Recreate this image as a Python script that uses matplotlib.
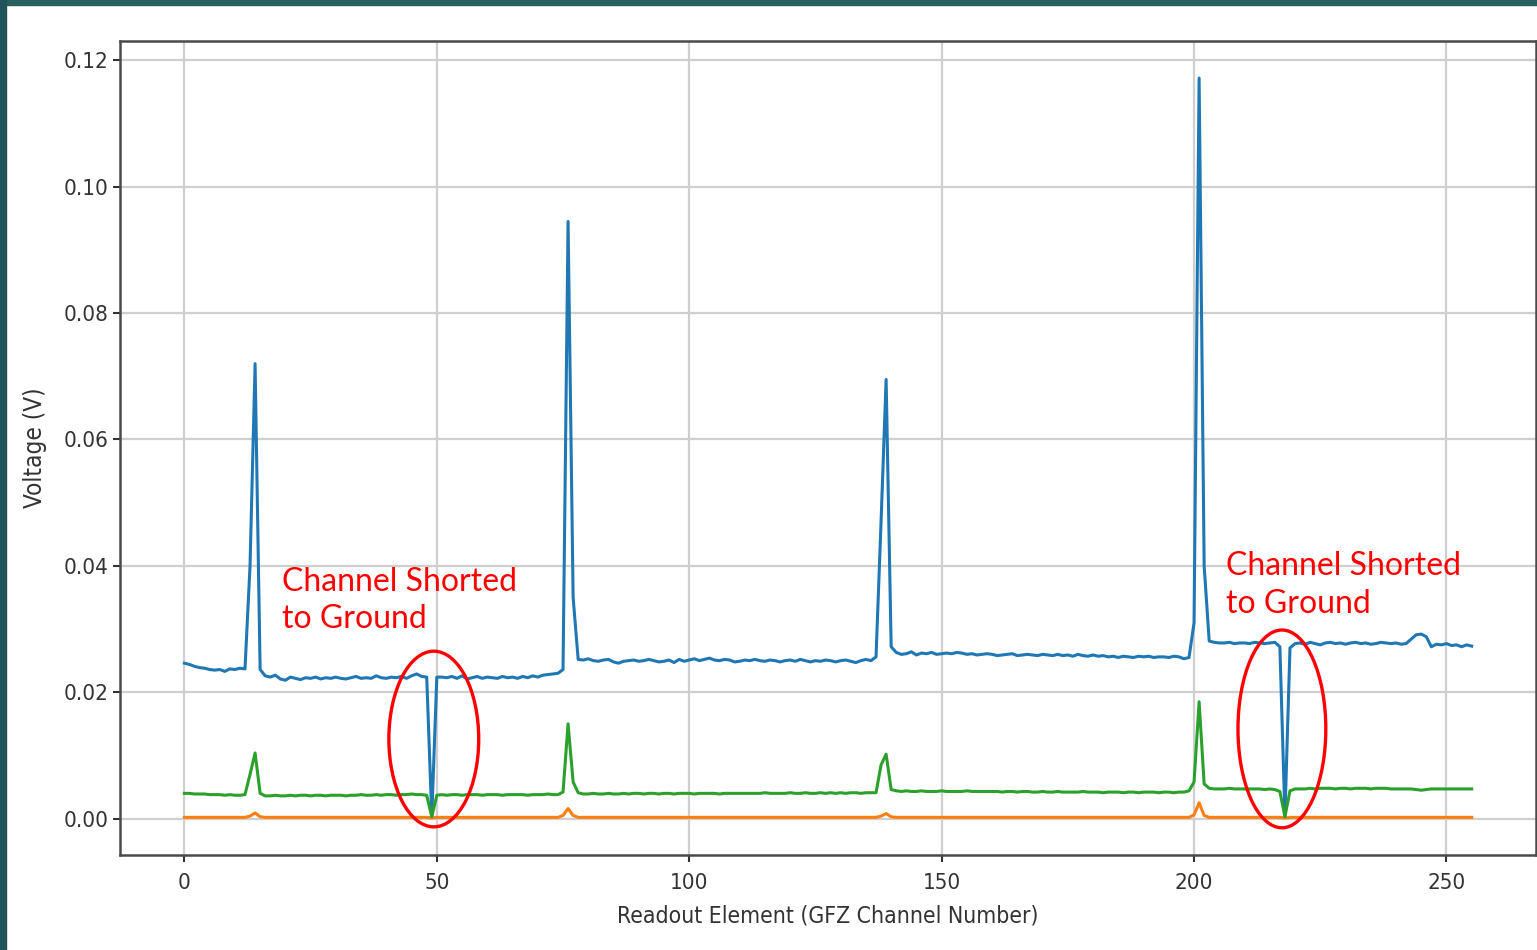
import matplotlib
matplotlib.use("Agg")
import matplotlib.pyplot as plt
from matplotlib.patches import Ellipse, Rectangle
import numpy as np

# readout elements 0..255
channels = list(range(256))

# blue trace (V), 16 values per row
blue_v = [
    0.0246, 0.0244, 0.0241, 0.0239, 0.0238, 0.0236, 0.0235, 0.0236, 0.0233, 0.0237, 0.0236, 0.0238, 0.0237, 0.0400, 0.0720, 0.0236,
    0.0226, 0.0224, 0.0227, 0.0221, 0.0219, 0.0224, 0.0222, 0.0220, 0.0223, 0.0222, 0.0224, 0.0221, 0.0223, 0.0222, 0.0224, 0.0222,
    0.0221, 0.0223, 0.0225, 0.0222, 0.0223, 0.0222, 0.0226, 0.0223, 0.0222, 0.0224, 0.0223, 0.0225, 0.0222, 0.0226, 0.0229, 0.0225,
    0.0224, 0.0003, 0.0224, 0.0224, 0.0223, 0.0225, 0.0222, 0.0226, 0.0221, 0.0223, 0.0225, 0.0222, 0.0224, 0.0223, 0.0222, 0.0225,
    0.0223, 0.0224, 0.0222, 0.0225, 0.0223, 0.0226, 0.0224, 0.0227, 0.0228, 0.0229, 0.0230, 0.0236, 0.0945, 0.0350, 0.0252, 0.0251,
    0.0253, 0.0250, 0.0249, 0.0251, 0.0252, 0.0248, 0.0246, 0.0249, 0.0250, 0.0251, 0.0249, 0.0250, 0.0252, 0.0250, 0.0248, 0.0249,
    0.0251, 0.0247, 0.0252, 0.0249, 0.0251, 0.0253, 0.0250, 0.0252, 0.0254, 0.0251, 0.0250, 0.0252, 0.0251, 0.0248, 0.0249, 0.0251,
    0.0250, 0.0252, 0.0250, 0.0249, 0.0251, 0.0250, 0.0248, 0.0250, 0.0251, 0.0249, 0.0252, 0.0250, 0.0248, 0.0250, 0.0249, 0.0251,
    0.0250, 0.0248, 0.0250, 0.0251, 0.0249, 0.0247, 0.0250, 0.0252, 0.0250, 0.0256, 0.0470, 0.0695, 0.0272, 0.0263, 0.0260, 0.0261,
    0.0264, 0.0259, 0.0262, 0.0261, 0.0263, 0.0260, 0.0261, 0.0262, 0.0261, 0.0263, 0.0262, 0.0260, 0.0261, 0.0259, 0.0260, 0.0261,
    0.0260, 0.0258, 0.0259, 0.0260, 0.0261, 0.0258, 0.0259, 0.0260, 0.0259, 0.0258, 0.0260, 0.0259, 0.0258, 0.0260, 0.0258, 0.0259,
    0.0257, 0.0260, 0.0258, 0.0257, 0.0259, 0.0257, 0.0258, 0.0256, 0.0257, 0.0255, 0.0257, 0.0256, 0.0255, 0.0257, 0.0256, 0.0257,
    0.0255, 0.0256, 0.0256, 0.0255, 0.0257, 0.0256, 0.0253, 0.0255, 0.0310, 0.1172, 0.0400, 0.0281, 0.0279, 0.0278, 0.0278, 0.0279,
    0.0277, 0.0278, 0.0278, 0.0277, 0.0279, 0.0278, 0.0277, 0.0278, 0.0279, 0.0272, 0.0003, 0.0270, 0.0277, 0.0278, 0.0276, 0.0279,
    0.0277, 0.0275, 0.0278, 0.0279, 0.0277, 0.0278, 0.0276, 0.0278, 0.0279, 0.0277, 0.0278, 0.0276, 0.0277, 0.0279, 0.0278, 0.0277,
    0.0278, 0.0276, 0.0277, 0.0284, 0.0291, 0.0292, 0.0288, 0.0272, 0.0276, 0.0275, 0.0277, 0.0274, 0.0275, 0.0272, 0.0275, 0.0273,
]

# orange trace (V)
orange_v = [
    0.0002, 0.0002, 0.0002, 0.0002, 0.0002, 0.0002, 0.0002, 0.0002, 0.0002, 0.0002, 0.0002, 0.0002, 0.0002, 0.0004, 0.0009, 0.0003,
    0.0002, 0.0002, 0.0002, 0.0002, 0.0002, 0.0002, 0.0002, 0.0002, 0.0002, 0.0002, 0.0002, 0.0002, 0.0002, 0.0002, 0.0002, 0.0002,
    0.0002, 0.0002, 0.0002, 0.0002, 0.0002, 0.0002, 0.0002, 0.0002, 0.0002, 0.0002, 0.0002, 0.0002, 0.0002, 0.0002, 0.0002, 0.0002,
    0.0002, 0.0001, 0.0002, 0.0002, 0.0002, 0.0002, 0.0002, 0.0002, 0.0002, 0.0002, 0.0002, 0.0002, 0.0002, 0.0002, 0.0002, 0.0002,
    0.0002, 0.0002, 0.0002, 0.0002, 0.0002, 0.0002, 0.0002, 0.0002, 0.0002, 0.0002, 0.0002, 0.0005, 0.0016, 0.0005, 0.0002, 0.0002,
    0.0002, 0.0002, 0.0002, 0.0002, 0.0002, 0.0002, 0.0002, 0.0002, 0.0002, 0.0002, 0.0002, 0.0002, 0.0002, 0.0002, 0.0002, 0.0002,
    0.0002, 0.0002, 0.0002, 0.0002, 0.0002, 0.0002, 0.0002, 0.0002, 0.0002, 0.0002, 0.0002, 0.0002, 0.0002, 0.0002, 0.0002, 0.0002,
    0.0002, 0.0002, 0.0002, 0.0002, 0.0002, 0.0002, 0.0002, 0.0002, 0.0002, 0.0002, 0.0002, 0.0002, 0.0002, 0.0002, 0.0002, 0.0002,
    0.0002, 0.0002, 0.0002, 0.0002, 0.0002, 0.0002, 0.0002, 0.0002, 0.0002, 0.0002, 0.0004, 0.0008, 0.0003, 0.0002, 0.0002, 0.0002,
    0.0002, 0.0002, 0.0002, 0.0002, 0.0002, 0.0002, 0.0002, 0.0002, 0.0002, 0.0002, 0.0002, 0.0002, 0.0002, 0.0002, 0.0002, 0.0002,
    0.0002, 0.0002, 0.0002, 0.0002, 0.0002, 0.0002, 0.0002, 0.0002, 0.0002, 0.0002, 0.0002, 0.0002, 0.0002, 0.0002, 0.0002, 0.0002,
    0.0002, 0.0002, 0.0002, 0.0002, 0.0002, 0.0002, 0.0002, 0.0002, 0.0002, 0.0002, 0.0002, 0.0002, 0.0002, 0.0002, 0.0002, 0.0002,
    0.0002, 0.0002, 0.0002, 0.0002, 0.0002, 0.0002, 0.0002, 0.0002, 0.0006, 0.0025, 0.0005, 0.0002, 0.0002, 0.0002, 0.0002, 0.0002,
    0.0002, 0.0002, 0.0002, 0.0002, 0.0002, 0.0002, 0.0002, 0.0002, 0.0002, 0.0002, 0.0001, 0.0002, 0.0002, 0.0002, 0.0002, 0.0002,
    0.0002, 0.0002, 0.0002, 0.0002, 0.0002, 0.0002, 0.0002, 0.0002, 0.0002, 0.0002, 0.0002, 0.0002, 0.0002, 0.0002, 0.0002, 0.0002,
    0.0002, 0.0002, 0.0002, 0.0002, 0.0002, 0.0002, 0.0002, 0.0002, 0.0002, 0.0002, 0.0002, 0.0002, 0.0002, 0.0002, 0.0002, 0.0002,
]

# green trace (V)
green_v = [
    0.0040, 0.0040, 0.0039, 0.0039, 0.0039, 0.0038, 0.0038, 0.0038, 0.0037, 0.0038, 0.0037, 0.0037, 0.0038, 0.0070, 0.0104, 0.0040,
    0.0036, 0.0036, 0.0037, 0.0036, 0.0036, 0.0037, 0.0036, 0.0037, 0.0037, 0.0036, 0.0037, 0.0037, 0.0036, 0.0037, 0.0037, 0.0037,
    0.0036, 0.0037, 0.0037, 0.0038, 0.0037, 0.0037, 0.0038, 0.0037, 0.0038, 0.0038, 0.0037, 0.0038, 0.0038, 0.0039, 0.0038, 0.0038,
    0.0037, 0.0003, 0.0037, 0.0038, 0.0037, 0.0038, 0.0038, 0.0037, 0.0038, 0.0038, 0.0038, 0.0037, 0.0038, 0.0038, 0.0038, 0.0037,
    0.0038, 0.0038, 0.0038, 0.0038, 0.0037, 0.0038, 0.0038, 0.0038, 0.0039, 0.0038, 0.0038, 0.0042, 0.0150, 0.0058, 0.0041, 0.0039,
    0.0039, 0.0040, 0.0039, 0.0039, 0.0040, 0.0039, 0.0039, 0.0040, 0.0039, 0.0040, 0.0040, 0.0039, 0.0040, 0.0040, 0.0039, 0.0040,
    0.0040, 0.0039, 0.0040, 0.0040, 0.0040, 0.0039, 0.0040, 0.0040, 0.0040, 0.0040, 0.0039, 0.0040, 0.0040, 0.0040, 0.0040, 0.0040,
    0.0040, 0.0040, 0.0040, 0.0041, 0.0040, 0.0040, 0.0040, 0.0040, 0.0041, 0.0040, 0.0040, 0.0041, 0.0040, 0.0040, 0.0041, 0.0040,
    0.0041, 0.0040, 0.0041, 0.0040, 0.0041, 0.0041, 0.0040, 0.0041, 0.0041, 0.0041, 0.0085, 0.0102, 0.0046, 0.0044, 0.0043, 0.0044,
    0.0043, 0.0043, 0.0044, 0.0043, 0.0043, 0.0043, 0.0044, 0.0043, 0.0043, 0.0043, 0.0043, 0.0044, 0.0043, 0.0043, 0.0043, 0.0043,
    0.0043, 0.0043, 0.0042, 0.0043, 0.0043, 0.0042, 0.0043, 0.0043, 0.0042, 0.0042, 0.0043, 0.0042, 0.0042, 0.0043, 0.0042, 0.0042,
    0.0042, 0.0042, 0.0043, 0.0042, 0.0042, 0.0042, 0.0041, 0.0042, 0.0042, 0.0042, 0.0041, 0.0042, 0.0042, 0.0041, 0.0042, 0.0042,
    0.0042, 0.0041, 0.0042, 0.0042, 0.0041, 0.0042, 0.0042, 0.0044, 0.0058, 0.0185, 0.0055, 0.0048, 0.0047, 0.0047, 0.0047, 0.0048,
    0.0047, 0.0047, 0.0047, 0.0047, 0.0047, 0.0047, 0.0046, 0.0047, 0.0046, 0.0043, 0.0003, 0.0044, 0.0047, 0.0047, 0.0047, 0.0048,
    0.0047, 0.0048, 0.0048, 0.0048, 0.0047, 0.0048, 0.0048, 0.0047, 0.0048, 0.0048, 0.0048, 0.0047, 0.0048, 0.0048, 0.0048, 0.0047,
    0.0047, 0.0047, 0.0047, 0.0047, 0.0046, 0.0045, 0.0046, 0.0047, 0.0047, 0.0047, 0.0047, 0.0047, 0.0047, 0.0047, 0.0047, 0.0047,
]

# shorted channels that get circled
shorted_channels = [49, 218]
note_text = "Channel Shorted\nto Ground"

fig = plt.figure(figsize=(15.37, 9.5), dpi=100)
fig.patch.set_facecolor("white")
# teal slide frame along top and left edge
fig.patches.append(Rectangle((0, 0.9947), 1, 0.0053, transform=fig.transFigure, color="#27605f", zorder=0))
fig.patches.append(Rectangle((0, 0), 0.0036, 1, transform=fig.transFigure, color="#1f5459", zorder=0))

ax = fig.add_axes([0.0781, 0.1, 0.9213, 0.8568])

ax.plot(channels, blue_v, color="#1f77b4", lw=2.2)
ax.plot(channels, orange_v, color="#ff7f0e", lw=2.2)
ax.plot(channels, green_v, color="#2ca02c", lw=2.2)

ax.grid(True, color="#cfcfcf", lw=1.6)
ax.set_axisbelow(True)
for s in ax.spines.values():
    s.set_color("#4a4a4a")
    s.set_linewidth(1.8)
ax.tick_params(colors="#333333", labelsize=16, length=5, width=1.5)
ax.tick_params(axis="x", pad=8)
ax.set_yticks([0.0, 0.02, 0.04, 0.06, 0.08, 0.10, 0.12])
ax.set_xticks([0, 50, 100, 150, 200, 250])
for lab in ax.get_xticklabels() + ax.get_yticklabels():
    lab.set_fontstretch("condensed")
ax.set_xlabel("Readout Element (GFZ Channel Number)", fontsize=16.5, color="#333333", fontstretch="condensed", labelpad=8)
ax.set_ylabel("Voltage (V)", fontsize=17.5, color="#333333", fontstretch="condensed", labelpad=12)

# red ellipses around the shorted channels
ax.add_patch(Ellipse((49.4, 0.0126), 17.8, 0.0278, fill=False, ec="red", lw=2.4, zorder=5))
ax.add_patch(Ellipse((217.4, 0.0142), 17.4, 0.0313, fill=False, ec="red", lw=2.4, zorder=5))
ax.text(19.4, 0.0398, note_text, color="red", fontsize=23, family="Lato", va="top", ha="left", linespacing=1.3)
ax.text(206.3, 0.0423, note_text, color="red", fontsize=23, family="Lato", va="top", ha="left", linespacing=1.3)

fig.savefig("out.png", dpi=100)
